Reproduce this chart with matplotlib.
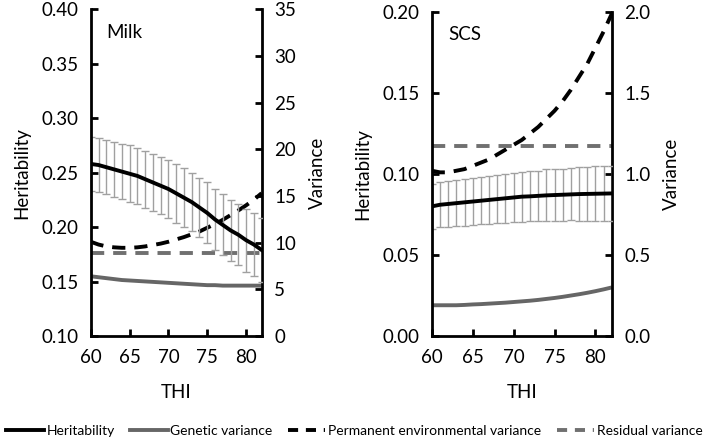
import matplotlib
matplotlib.use("Agg")
import matplotlib.pyplot as plt
import numpy as np

plt.rcParams['font.family'] = ['Lato', 'DejaVu Sans']

thi = list(range(60, 83))

# Milk
milk_h2 = [0.258, 0.257, 0.255, 0.253, 0.251, 0.249, 0.247, 0.244, 0.241, 0.238, 0.235, 0.231,
           0.227, 0.223, 0.218, 0.213, 0.207, 0.202, 0.197, 0.193, 0.188, 0.184, 0.179]
milk_se = [0.025, 0.025, 0.025, 0.025, 0.025, 0.026, 0.026, 0.026, 0.026, 0.026, 0.027, 0.027,
           0.027, 0.027, 0.027, 0.028, 0.028, 0.028, 0.028, 0.028, 0.029, 0.029, 0.029]
milk_gen = [6.4, 6.3, 6.2, 6.1, 6.0, 5.95, 5.9, 5.85, 5.8, 5.75, 5.7, 5.65,
            5.6, 5.55, 5.5, 5.45, 5.45, 5.4, 5.4, 5.4, 5.4, 5.4, 5.4]
milk_pe = [10.1, 9.8, 9.6, 9.5, 9.45, 9.45, 9.5, 9.6, 9.75, 9.9, 10.1, 10.35,
           10.6, 10.9, 11.2, 11.6, 12.0, 12.45, 12.95, 13.45, 14.0, 14.6, 15.3]
milk_res = [8.9] * 23

# SCS
scs_h2 = [0.080, 0.081, 0.0815, 0.082, 0.0825, 0.083, 0.0835, 0.084, 0.0845, 0.085, 0.0855, 0.086,
          0.0862, 0.0865, 0.0868, 0.087, 0.0872, 0.0874, 0.0876, 0.0877, 0.0878, 0.0879, 0.088]
scs_se = [0.014, 0.014, 0.014, 0.014, 0.0145, 0.0145, 0.0145, 0.015, 0.015, 0.015, 0.015, 0.0155,
          0.0155, 0.0155, 0.016, 0.016, 0.016, 0.016, 0.0165, 0.0165, 0.017, 0.017, 0.017]
scs_gen = [0.19, 0.19, 0.19, 0.19, 0.192, 0.195, 0.197, 0.2, 0.203, 0.206, 0.21, 0.214,
           0.218, 0.223, 0.229, 0.235, 0.242, 0.25, 0.258, 0.267, 0.277, 0.288, 0.30]
scs_pe = [1.02, 1.01, 1.01, 1.02, 1.03, 1.05, 1.07, 1.09, 1.12, 1.15, 1.18, 1.21,
          1.25, 1.29, 1.34, 1.39, 1.45, 1.52, 1.60, 1.68, 1.78, 1.88, 1.99]
scs_res = [1.175] * 23

fig = plt.figure(figsize=(7.09, 4.41), dpi=100)

panels = [
    dict(rect=[0.128, 0.238, 0.241, 0.741], title="Milk", h2=milk_h2, se=milk_se,
         gen=milk_gen, pe=milk_pe, res=milk_res, hlim=(0.10, 0.40), hstep=0.05, hfmt="%.2f",
         vlim=(0, 35), vstep=5, vfmt="%d"),
    dict(rect=[0.609, 0.238, 0.254, 0.735], title="SCS", h2=scs_h2, se=scs_se,
         gen=scs_gen, pe=scs_pe, res=scs_res, hlim=(0.0, 0.20), hstep=0.05, hfmt="%.2f",
         vlim=(0, 2.0), vstep=0.5, vfmt="%.1f"),
]

fs = 13.5
lw_axis = 2.0
for p in panels:
    ax = fig.add_axes(p['rect'])
    ax2 = ax.twinx()
    ax.set_zorder(ax2.get_zorder() + 1)
    ax.patch.set_visible(False)

    ax2.plot(thi, p['gen'], color='#666666', lw=2.8, solid_capstyle='butt')
    ax2.plot(thi, p['pe'], color='black', lw=2.8, dashes=(3.4, 2.3))
    ax2.plot(thi, p['res'], color='#707070', lw=2.8, dashes=(3.4, 2.3))

    ax.errorbar(thi, p['h2'], yerr=p['se'], fmt='none', ecolor='#a0a0a0',
                elinewidth=1.0, capsize=3, capthick=1.0)
    ax.plot(thi, p['h2'], color='black', lw=2.8)

    ax.set_xlim(60, 82)
    ax.set_ylim(*p['hlim'])
    ax2.set_ylim(*p['vlim'])
    ax.set_xticks([60, 65, 70, 75, 80])
    ax.set_yticks(np.arange(p['hlim'][0], p['hlim'][1] + 1e-9, p['hstep']))
    ax2.set_yticks(np.arange(p['vlim'][0], p['vlim'][1] + 1e-9, p['vstep']))
    ax.yaxis.set_major_formatter(matplotlib.ticker.FormatStrFormatter(p['hfmt']))
    ax2.yaxis.set_major_formatter(matplotlib.ticker.FormatStrFormatter(p['vfmt']))

    for a in (ax, ax2):
        a.spines['top'].set_visible(False)
        for s in a.spines.values():
            s.set_linewidth(lw_axis)
        a.tick_params(direction='in', length=5, width=lw_axis, labelsize=fs, pad=9)
    ax.spines['right'].set_visible(False)
    ax2.spines['left'].set_visible(False)
    ax2.spines['bottom'].set_visible(False)

    ax.set_xlabel("THI", fontsize=fs, labelpad=13)
    ax.set_ylabel("Heritability", fontsize=fs, labelpad=8)
    ax2.set_ylabel("Variance", fontsize=fs, labelpad=9)
    ax.text(0.09, 0.955, p['title'], transform=ax.transAxes, fontsize=fs, va='top')

handles = [
    plt.Line2D([], [], color='black', lw=2.8),
    plt.Line2D([], [], color='#666666', lw=2.8),
    plt.Line2D([], [], color='black', lw=2.8, dashes=(2.6, 2.0)),
    plt.Line2D([], [], color='#707070', lw=2.8, dashes=(2.6, 2.0)),
]
labels = ["Heritability", "Genetic variance", "Permanent environmental variance", "Residual variance"]
fig.legend(handles, labels, loc='lower center', bbox_to_anchor=(0.5, -0.02), ncol=4,
           frameon=False, fontsize=10, handlelength=2.7, handletextpad=0.2, columnspacing=1.1)

fig.savefig("out.png", dpi=100)
